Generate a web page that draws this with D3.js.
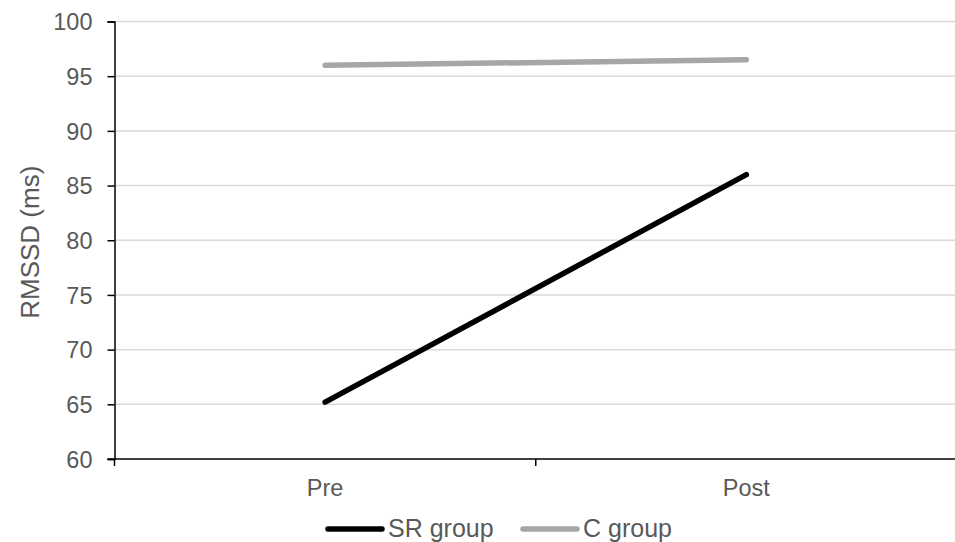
<!DOCTYPE html>
<html><head><meta charset="utf-8">
<script src="https://cdn.jsdelivr.net/npm/d3@7"></script>
<style>body{margin:0;background:#fff}svg{display:block}text{font-family:"Liberation Sans",Arial,sans-serif;fill:#595959}</style>
</head><body><svg id="c" width="955" height="542"></svg>
<script>
const categories = ["Pre", "Post"];
const srValues = [65.2, 86.0];
const cValues = [96.0, 96.5];
const seriesNames = ["SR group", "C group"];
const yTicks = [60, 65, 70, 75, 80, 85, 90, 95, 100];

const svg = d3.select("#c");
const m = {l: 114.5, r: 957, t: 21.5, b: 459};
const x = d3.scaleBand().domain(categories).range([m.l, m.r]);
const y = d3.scaleLinear().domain([60, 100]).range([m.b, m.t]);

// gridlines
svg.append("g").selectAll("line").data(yTicks.slice(1)).join("line")
  .attr("x1", m.l).attr("x2", 955).attr("y1", d => y(d)).attr("y2", d => y(d))
  .attr("stroke", "#d9d9d9").attr("stroke-width", 1.5);

// y axis
const ya = svg.append("g").attr("transform", `translate(${m.l},0)`)
  .call(d3.axisLeft(y).tickValues(yTicks).tickSize(7).tickPadding(15));
ya.select(".domain").attr("stroke", "#000").attr("stroke-width", 1.5);
ya.selectAll(".tick line").attr("stroke", "#000").attr("stroke-width", 1.5);
ya.selectAll("text").style("font-size", "23.5px").attr("fill", "#595959").attr("dy", "0.35em");

// x axis
const xa = svg.append("g").attr("transform", `translate(0,${m.b})`);
xa.append("line").attr("x1", m.l - 7).attr("x2", 955).attr("stroke", "#000").attr("stroke-width", 1.5);
const bounds = [m.l, m.l + x.step(), m.l + 2 * x.step()];
xa.selectAll("line.t").data(bounds).join("line").attr("class", "t")
  .attr("x1", d => d).attr("x2", d => d).attr("y1", 0).attr("y2", 7)
  .attr("stroke", "#000").attr("stroke-width", 1.5);
xa.selectAll("text").data(categories).join("text")
  .attr("x", d => x(d) + x.bandwidth() / 2).attr("y", 37)
  .attr("text-anchor", "middle").style("font-size", "23.5px").text(d => d);

// y title
svg.append("text").attr("transform", `translate(39,${(m.t + m.b) / 2 + 2}) rotate(-90)`)
  .attr("text-anchor", "middle").style("font-size", "26px").text("RMSSD (ms)");

// lines
const line = d3.line().x((d, i) => x(categories[i]) + x.bandwidth() / 2).y(d => y(d));
const colors = ["#000000", "#a6a6a6"];
[srValues, cValues].forEach((vals, k) => {
  svg.append("path").datum(vals).attr("d", line)
    .attr("fill", "none").attr("stroke", colors[k]).attr("stroke-width", 5.5)
    .attr("stroke-linecap", "round");
});

// legend
const leg = [{x: 328, tx: 388}, {x: 523, tx: 583}];
seriesNames.forEach((n, k) => {
  svg.append("line").attr("x1", leg[k].x).attr("x2", leg[k].x + 54)
    .attr("y1", 529).attr("y2", 529).attr("stroke", colors[k]).attr("stroke-width", 5.5)
    .attr("stroke-linecap", "round");
  svg.append("text").attr("x", leg[k].tx).attr("y", 537).style("font-size", "25px").text(n);
});
</script></body></html>
